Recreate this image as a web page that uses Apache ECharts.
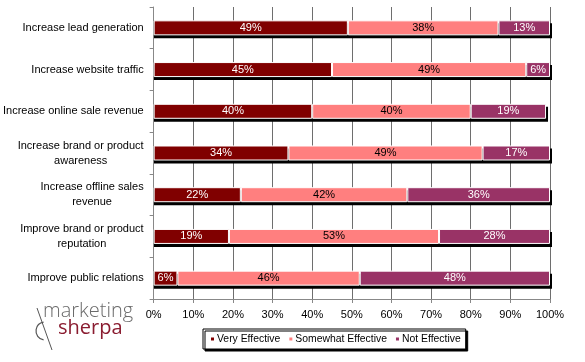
<!DOCTYPE html>
<html><head><meta charset="utf-8">
<script src="https://cdn.jsdelivr.net/npm/echarts@6/dist/echarts.min.js"></script>
<style>html,body{margin:0;padding:0;background:#fff}#c{width:585px;height:362px}</style>
</head><body><div id="c"></div>
<script>
const categories = [
  "Increase lead generation",
  "Increase website traffic",
  "Increase online sale revenue",
  "Increase brand or product\nawareness",
  "Increase offline sales\nrevenue",
  "Improve brand or product\nreputation",
  "Improve public relations"
];
const seriesNames = ["Very Effective", "Somewhat Effective", "Not Effective"];
const veryEffective = [49, 45, 40, 34, 22, 19, 6];
const somewhatEffective = [38, 49, 40, 49, 42, 53, 46];
const notEffective = [13, 6, 19, 17, 36, 28, 48];
const xTicks = [0, 10, 20, 30, 40, 50, 60, 70, 80, 90, 100];

const colors = ["#800000", "#FF7F7F", "#993366"];
const labelColors = ["#ffffff", "#000000", "#ffffff"];
const FONT = "'Liberation Sans', Arial, sans-serif";
const totals = categories.map((c, i) => veryEffective[i] + somewhatEffective[i] + notEffective[i]);

const chart = echarts.init(document.getElementById('c'), null, {renderer: 'canvas'});
function mk(name, data, i) {
  return {
    name: name, type: 'bar', stack: 'all', data: data, barWidth: 15, z: 3,
    xAxisIndex: 0, yAxisIndex: 0,
    itemStyle: {color: colors[i], borderColor: '#ffffff', borderWidth: 1},
    label: {show: true, position: 'inside', formatter: '{c}%', color: labelColors[i],
      fontFamily: FONT, fontSize: 11},
    emphasis: {disabled: true}, animation: false
  };
}
const GL = 152, GR = 35, GT = 7, GB = 63;
chart.setOption({
  animation: false,
  grid: [
    {left: GL, right: GR, top: GT, bottom: GB, containLabel: false},
    {left: GL + 2, right: GR - 2, top: GT + 3, bottom: GB - 3, containLabel: false}
  ],
  xAxis: [{
    type: 'value', min: 0, max: 100, interval: 10, gridIndex: 0,
    axisLine: {show: true, lineStyle: {color: '#888', width: 1}},
    axisTick: {show: true, length: 4, lineStyle: {color: '#888'}},
    splitLine: {show: true, lineStyle: {color: '#6e6e6e', width: 1}},
    axisLabel: {formatter: v => v + '%', color: '#000', fontFamily: FONT, fontSize: 11, margin: 10}
  }, {
    type: 'value', min: 0, max: 100, gridIndex: 1, show: false
  }],
  yAxis: [{
    type: 'category', data: categories, inverse: true, gridIndex: 0,
    axisLine: {show: true, lineStyle: {color: '#888'}},
    axisTick: {show: true, length: 4, lineStyle: {color: '#888'}},
    axisLabel: {
      color: '#000', fontFamily: FONT, fontSize: 11, margin: 10, lineHeight: 15,
      formatter: v => v.split('\n').map(s => '{c|' + s + '}').join('\n'),
      rich: {c: {align: 'center', fontFamily: FONT, fontSize: 11, color: '#000', lineHeight: 15}}
    }
  }, {
    type: 'category', data: categories, inverse: true, gridIndex: 1, show: false
  }],
  legend: {
    data: seriesNames, left: 203, top: 329, width: 400,
    backgroundColor: '#fff', borderColor: '#000', borderWidth: 1,
    shadowColor: '#000', shadowOffsetX: 2, shadowOffsetY: 2, shadowBlur: 0,
    padding: [5, 5, 5, 6], itemGap: 7, itemWidth: 5, itemHeight: 5, icon: 'rect',
    textStyle: {fontFamily: FONT, fontSize: 10.4, color: '#000', padding: [0, 0, 0, -3]}
  },
  series: [
    {type: 'bar', name: 'shadow', data: totals, barWidth: 15, xAxisIndex: 1, yAxisIndex: 1, z: 1,
     itemStyle: {color: '#000'}, label: {show: false}, emphasis: {disabled: true}, silent: true},
    mk(seriesNames[0], veryEffective, 0), mk(seriesNames[1], somewhatEffective, 1), mk(seriesNames[2], notEffective, 2)
  ],
  graphic: [
    {type: 'text', left: 43, top: 301, style: {text: 'marketing', fill: '#6a6a6a', font: '300 20px "Open Sans", sans-serif'}},
    {type: 'text', left: 58, top: 318, style: {text: 'sherpa', fill: '#8a1c30', font: '400 20px "Open Sans", sans-serif'}},
    {type: 'line', shape: {x1: 37, y1: 308, x2: 52, y2: 350}, style: {stroke: '#555', lineWidth: 1}},
    {type: 'arc', shape: {cx: 45, cy: 331, r: 9, startAngle: Math.PI * 0.55, endAngle: Math.PI * 1.45}, style: {stroke: '#555', lineWidth: 1.2, fill: null}}
  ]
});
</script></body></html>
